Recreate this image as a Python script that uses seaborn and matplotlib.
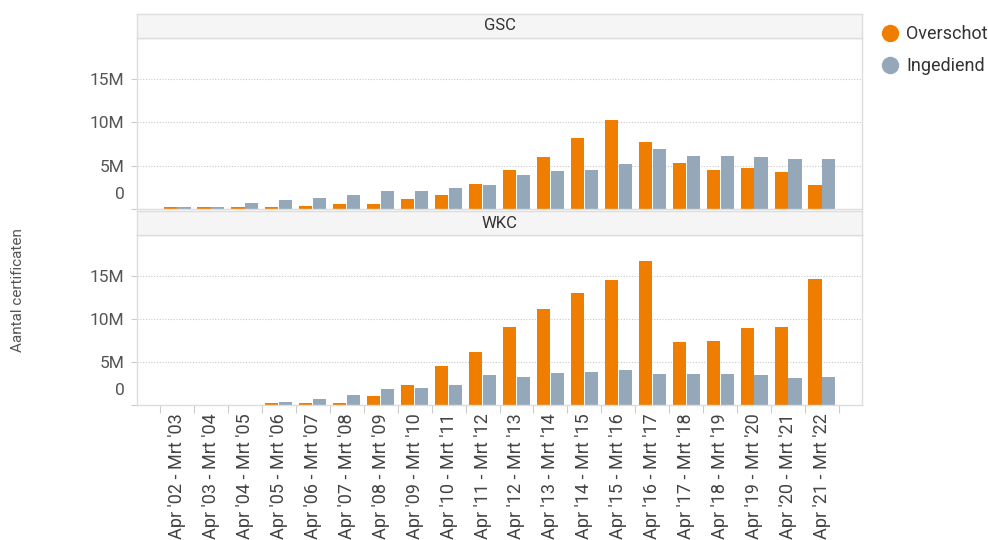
import pandas as pd
import matplotlib.pyplot as plt
import matplotlib.transforms as mtransforms
import seaborn as sns
from matplotlib.lines import Line2D
from matplotlib.ticker import FuncFormatter

perioden = ["Apr '02 - Mrt '03", "Apr '03 - Mrt '04", "Apr '04 - Mrt '05",
            "Apr '05 - Mrt '06", "Apr '06 - Mrt '07", "Apr '07 - Mrt '08",
            "Apr '08 - Mrt '09", "Apr '09 - Mrt '10", "Apr '10 - Mrt '11",
            "Apr '11 - Mrt '12", "Apr '12 - Mrt '13", "Apr '13 - Mrt '14",
            "Apr '14 - Mrt '15", "Apr '15 - Mrt '16", "Apr '16 - Mrt '17",
            "Apr '17 - Mrt '18", "Apr '18 - Mrt '19", "Apr '19 - Mrt '20",
            "Apr '20 - Mrt '21", "Apr '21 - Mrt '22"]

# waarden in miljoen certificaten
gsc_overschot = [0.23, 0.2, 0.2, 0.2, 0.4, 0.54, 0.54, 1.15, 1.65, 2.92,
                 4.5, 6.0, 8.23, 10.3, 7.74, 5.35, 4.54, 4.7, 4.23, 2.77]
gsc_ingediend = [0.23, 0.2, 0.7, 1.0, 1.3, 1.65, 2.1, 2.1, 2.46, 2.77,
                 3.9, 4.35, 4.54, 5.2, 6.93, 6.16, 6.16, 6.0, 5.8, 5.8]
wkc_overschot = [0, 0, 0, 0.23, 0.23, 0.23, 1.0, 2.3, 4.54, 6.15,
                 9.04, 11.1, 13.0, 14.5, 16.7, 7.27, 7.42, 8.88, 9.04, 14.65]
wkc_ingediend = [0, 0, 0, 0.38, 0.69, 1.15, 1.81, 1.96, 2.3, 3.5,
                 3.27, 3.73, 3.88, 4.04, 3.58, 3.58, 3.58, 3.42, 3.08, 3.27]

series = ['Overschot', 'Ingediend']
kleuren = {'Overschot': '#EF7D00', 'Ingediend': '#94A8B9'}


def maak_df(overschot, ingediend):
    df = pd.DataFrame({'periode': perioden,
                       'Overschot': [v * 1e6 for v in overschot],
                       'Ingediend': [v * 1e6 for v in ingediend]})
    return df.melt(id_vars='periode', value_vars=series,
                   var_name='serie', value_name='aantal')


sns.set_theme(style='white')
plt.rcParams['font.family'] = ['Roboto', 'DejaVu Sans']

fig = plt.figure(figsize=(9.88, 5.4), dpi=100)
left, width = 137 / 988, 725 / 988
panelen = [('GSC', maak_df(gsc_overschot, gsc_ingediend), 38, 209),
           ('WKC', maak_df(wkc_overschot, wkc_ingediend), 235, 405)]

fmt = FuncFormatter(lambda v, p: '0' if v == 0 else f'{v / 1e6:.0f}M')

for i, (naam, df, top, bottom) in enumerate(panelen):
    ax = fig.add_axes([left, 1 - bottom / 540, width, (bottom - top) / 540])
    sns.barplot(data=df, x='periode', y='aantal', hue='serie',
                hue_order=series, palette=kleuren, saturation=1,
                width=0.82, gap=0.06, linewidth=0, legend=False, ax=ax)
    ax.set_xlim(-1.18, 20.18)
    ax.set_ylim(0, 19.7e6)
    ax.set_yticks([0, 5e6, 10e6, 15e6])
    ax.yaxis.set_major_formatter(fmt)
    ax.grid(axis='y', linestyle=(0, (1, 1.5)), color='#c8c8c8', linewidth=0.8)
    ax.set_axisbelow(True)
    ax.set_xlabel('')
    ax.set_ylabel('')
    for s in ax.spines.values():
        s.set_color('#dddddd')
        s.set_linewidth(1)
    ax.tick_params(axis='y', left=True, length=4, width=0.8, color='#cccccc',
                   labelsize=12.5, labelcolor='#555555', pad=5)
    if i == 0:
        ax.tick_params(axis='x', bottom=False, labelbottom=False)
    else:
        ax.set_xticks(range(len(perioden)))
        ax.set_xticklabels(perioden, rotation=90, fontsize=13, color='#444444',
                           va='top', ha='center')
        ax.tick_params(axis='x', which='major', length=0, pad=6)
        ax.set_xticks([k - 0.5 for k in range(len(perioden) + 1)], minor=True)
        ax.tick_params(axis='x', which='minor', bottom=True, length=6,
                       width=0.8, color='#cccccc')
    # label "0" iets boven de as
    nul = ax.yaxis.get_major_ticks()[0].label1
    nul.set_verticalalignment('bottom')
    nul.set_transform(nul.get_transform() +
                      mtransforms.ScaledTranslation(0, 5 / 72, fig.dpi_scale_trans))

    # kop van het paneel
    kop = fig.add_axes([left, 1 - top / 540, width, 24 / 540])
    kop.set_facecolor('#f5f5f5')
    kop.set_xticks([])
    kop.set_yticks([])
    for s in kop.spines.values():
        s.set_color('#dddddd')
        s.set_linewidth(1)
    kop.text(0.5, 0.5, naam, ha='center', va='center', fontsize=12,
             color='#333333', transform=kop.transAxes)

fig.text(18 / 988, 1 - 290 / 540, 'Aantal certificaten', rotation=90,
         ha='center', va='center', fontsize=11, color='#555555')

handles = [Line2D([], [], marker='o', linestyle='', markersize=13,
                  markerfacecolor=kleuren[s], markeredgecolor='white',
                  markeredgewidth=0.5) for s in series]
fig.legend(handles, series, loc='upper left', bbox_to_anchor=(0.8897, 0.953),
           frameon=False, fontsize=13, handletextpad=0.3, borderpad=0,
           borderaxespad=0, labelspacing=0.75, handlelength=1.2,
           labelcolor='#333333')

fig.savefig('out.png', dpi=100)
